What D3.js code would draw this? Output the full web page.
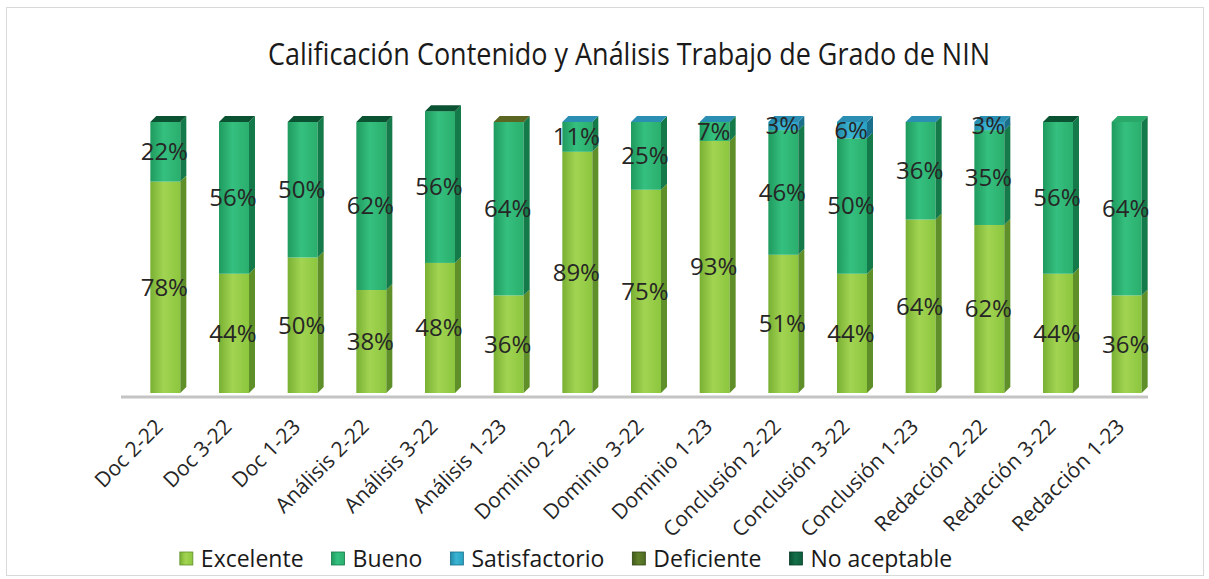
<!DOCTYPE html>
<html>
<head>
<meta charset="utf-8">
<script src="https://cdn.jsdelivr.net/npm/d3@7"></script>
<style>
  body { margin: 0; background: #fff; }
  text { font-family: "Open Sans", "Noto Sans", sans-serif; }
</style>
</head>
<body>
<script>
const categories = [
  "Doc 2-22", "Doc 3-22", "Doc 1-23",
  "Análisis 2-22", "Análisis 3-22", "Análisis 1-23",
  "Dominio 2-22", "Dominio 3-22", "Dominio 1-23",
  "Conclusión 2-22", "Conclusión 3-22", "Conclusión 1-23",
  "Redacción 2-22", "Redacción 3-22", "Redacción 1-23"
];
const excelente     = [78, 44, 50, 38, 48, 36, 89, 75, 93, 51, 44, 64, 62, 44, 36];
const bueno         = [22, 56, 50, 62, 56, 64, 11, 25, 7, 46, 50, 36, 35, 56, 64];
const satisfactorio = [null, null, null, null, null, null, 0, 0, 0, 3, 6, 0, 3, null, null];
const deficiente    = [null, null, null, null, null, 0, null, null, null, null, null, null, null, null, null];
const noAceptable   = [0, 0, 0, 0, 0, null, null, null, null, null, null, null, null, 0, null];

const seriesNames = ["Excelente", "Bueno", "Satisfactorio", "Deficiente", "No aceptable"];
const seriesValues = [excelente, bueno, satisfactorio, deficiente, noAceptable];

const width = 1209, height = 579;

// front / side / top shades per series
const palette = {
  "Excelente":     { light: "#a2d452", mid: "#8cc63e", dark: "#79b033", side: "#5f8f28", top: "#a6d65a" },
  "Bueno":         { light: "#35c07f", mid: "#2aae6d", dark: "#1f9a5e", side: "#157a49", top: "#2aa869" },
  "Satisfactorio": { light: "#3bb5d4", mid: "#2aa1c2", dark: "#218aa8", side: "#1a6f8a", top: "#2a8fb3" },
  "Deficiente":    { light: "#607f2a", mid: "#4f6c22", dark: "#405a1b", side: "#324714", top: "#5a6622" },
  "No aceptable":  { light: "#147049", mid: "#0d5e3c", dark: "#0a4f32", side: "#083f28", top: "#0b5232" }
};

const table = categories.map((c, i) => {
  const row = { cat: c };
  seriesNames.forEach((s, k) => { row[s] = seriesValues[k][i]; });
  return row;
});

const stack = d3.stack().keys(seriesNames).value((d, k) => d[k] ?? 0);
const stacked = stack(table);

const x = d3.scalePoint().domain(categories).range([131, 1161]).padding(0.5);
const y = d3.scaleLinear().domain([0, 100]).range([393, 122]);

const barW = 30, depth = 6;

const svg = d3.select("body").append("svg")
  .attr("width", width).attr("height", height)
  .attr("viewBox", [0, 0, width, height]);

const defs = svg.append("defs");
seriesNames.forEach((s, k) => {
  const p = palette[s];
  const g = defs.append("linearGradient").attr("id", "grad" + k)
    .attr("x1", 0).attr("x2", 1).attr("y1", 0).attr("y2", 0);
  g.append("stop").attr("offset", "0%").attr("stop-color", p.dark);
  g.append("stop").attr("offset", "45%").attr("stop-color", p.light);
  g.append("stop").attr("offset", "100%").attr("stop-color", p.mid);
});

// chart border
svg.append("rect")
  .attr("x", 6.5).attr("y", 7.5)
  .attr("width", 1197).attr("height", 568)
  .attr("fill", "none").attr("stroke", "#d9d9d9");

// Title
svg.append("text")
  .attr("x", 629).attr("y", 65)
  .attr("text-anchor", "middle")
  .attr("font-size", 31)
  .attr("fill", "#1a1a1a")
  .attr("textLength", 722)
  .attr("lengthAdjust", "spacingAndGlyphs")
  .text("Calificación Contenido y Análisis Trabajo de Grado de NIN");

// base line
svg.append("line")
  .attr("x1", 121).attr("x2", 1148)
  .attr("y1", 397).attr("y2", 397)
  .attr("stroke", "#c4c4c4").attr("stroke-width", 3);

// Bars
const bars = svg.append("g");
categories.forEach((c, i) => {
  const cx = x(c);
  const x0 = cx - barW / 2, x1 = cx + barW / 2;
  let topK = -1;
  stacked.forEach((ser, k) => {
    const v = seriesValues[k][i];
    if (v === null || v === undefined) return;
    topK = k;
    const [a, b] = ser[i];
    if (b - a <= 0) return;
    const yb = y(a), yt = y(b);
    bars.append("rect")
      .attr("x", x0).attr("y", yt)
      .attr("width", barW).attr("height", yb - yt)
      .attr("fill", `url(#grad${k})`);
    bars.append("path")
      .attr("d", `M${x1},${yb}L${x1 + depth},${yb - depth}L${x1 + depth},${yt - depth}L${x1},${yt}Z`)
      .attr("fill", palette[seriesNames[k]].side);
  });
  // top face coloured by the topmost listed series
  const yt = y(stacked[topK][i][1]);
  bars.append("path")
    .attr("d", `M${x0},${yt}L${x0 + depth},${yt - depth}L${x1 + depth},${yt - depth}L${x1},${yt}Z`)
    .attr("fill", palette[seriesNames[topK]].top);
});

// Value labels
const labels = svg.append("g")
  .attr("font-size", 24)
  .attr("fill", "#262626")
  .attr("text-anchor", "middle");
stacked.forEach((ser, k) => {
  ser.forEach((d, i) => {
    const v = seriesValues[k][i];
    if (!v) return;
    labels.append("text")
      .attr("x", x(categories[i]) - 1)
      .attr("y", y((d[0] + d[1]) / 2))
      .attr("dy", "0.35em")
      .text(v + "%");
  });
});

// X axis labels
svg.append("g")
  .selectAll("text")
  .data(categories)
  .join("text")
  .attr("transform", (d) => `translate(${x(d) - 1}, 428) rotate(-45)`)
  .attr("text-anchor", "end")
  .attr("font-size", 21)
  .attr("fill", "#262626")
  .text((d) => d);

// Legend
const legend = svg.append("g").attr("font-size", 23).attr("fill", "#1a1a1a");
let lx = 0;
seriesNames.forEach((s, k) => {
  const g = legend.append("g").attr("transform", `translate(${lx},0)`);
  g.append("rect")
    .attr("x", 0).attr("y", -15)
    .attr("width", 13).attr("height", 13)
    .attr("fill", `url(#grad${k})`)
    .attr("stroke", palette[s].side).attr("stroke-width", 0.8);
  const t = g.append("text").attr("x", 21).attr("y", 0).text(s);
  lx += 21 + t.node().getComputedTextLength() + 28;
});
const legendW = lx - 28;
legend.attr("transform", `translate(${566 - legendW / 2}, 567)`);
</script>
</body>
</html>
